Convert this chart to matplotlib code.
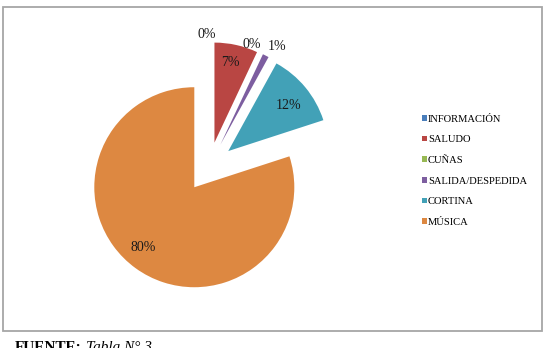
import numpy as np
import matplotlib
matplotlib.use("Agg")
import matplotlib.pyplot as plt
from matplotlib.patches import Rectangle, Patch

plt.rcParams['font.family'] = ['Liberation Serif', 'DejaVu Serif']

categories = ['INFORMACIÓN', 'SALUDO', 'CUÑAS', 'SALIDA/DESPEDIDA', 'CORTINA', 'MÚSICA']
values = [0, 7, 0, 1, 12, 80]
colors = ['#4A7EBB', '#B94643', '#98B954', '#7D5EA0', '#42A1B7', '#DD8841']

# label placement: radius fraction and angle nudge (deg) per slice
label_r = [1.08, 0.82, 1.05, 1.13, 0.75, 0.79]
label_nudge = [1, 1.3, 7.5, -3, -2.6, -4]

W, H = 547, 348
cx, cy, R = 209, 167, 100   # pie centre and radius in pixels (from top-left)

fig = plt.figure(figsize=(W / 100, H / 100), dpi=100)
ax = fig.add_axes([0, 0, 1, 1])

wedges, _ = ax.pie(values, explode=[0.25] * len(values), colors=colors,
                   startangle=90, counterclock=False, radius=1,
                   wedgeprops=dict(linewidth=0))

for w, v, lr, dn in zip(wedges, values, label_r, label_nudge):
    mid = np.deg2rad((w.theta1 + w.theta2) / 2 + dn)
    x = w.center[0] + w.r * lr * np.cos(mid)
    y = w.center[1] + w.r * lr * np.sin(mid)
    ax.text(x, y, f"{v}%", ha='center', va='center', fontsize=10, color='#1a1a1a')

ax.set_xlim(-cx / R, (W - cx) / R)
ax.set_ylim(-(H - cy) / R, cy / R)
ax.set_aspect('auto')
ax.axis('off')

# chart frame
fig.patches.append(Rectangle((3 / W, 1 - 331 / H), 539 / W, 324 / H,
                             transform=fig.transFigure, fill=False,
                             edgecolor='#A6A6A6', linewidth=1.3))

handles = [Patch(facecolor=c, edgecolor='none') for c in colors]
leg = ax.legend(handles, categories, loc='upper left',
                bbox_to_anchor=(417 / W, 1 - 109.5 / H), frameon=False,
                fontsize=7.6, handlelength=0.45, handleheight=0.45,
                handletextpad=0.1, labelspacing=1.1, borderpad=0)

fig.text(15 / W, 1 - 341 / H, "FUENTE:", fontsize=11, va='top', ha='left',
         fontweight='bold')
fig.text(86 / W, 1 - 341 / H, "Tabla N° 3", fontsize=11, va='top', ha='left',
         style='italic')

fig.savefig('out.png', dpi=100)
